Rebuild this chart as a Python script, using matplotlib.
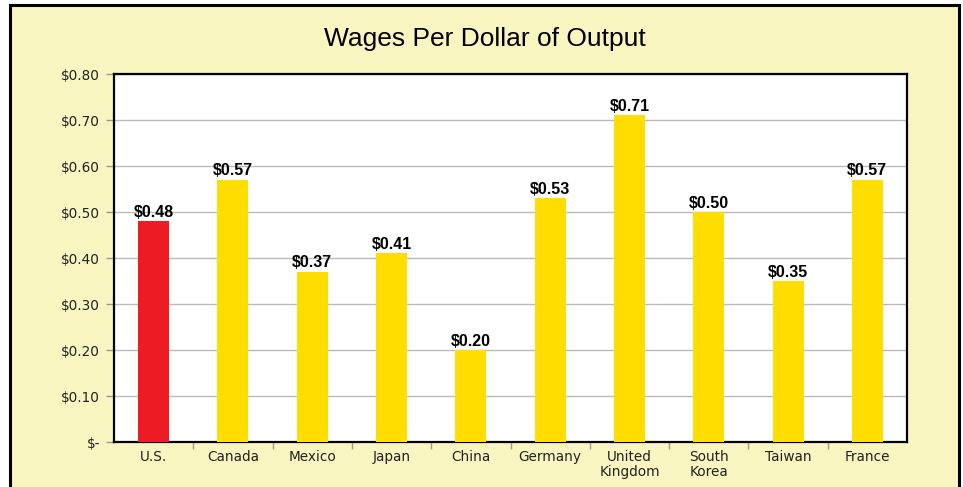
import numpy as np
import matplotlib
matplotlib.use('Agg')
from matplotlib import pyplot as plt
from matplotlib.patches import Rectangle

countries = ['U.S.', 'Canada', 'Mexico', 'Japan', 'China', 'Germany',
             'United\nKingdom', 'South\nKorea', 'Taiwan', 'France']
wages = [0.48, 0.57, 0.37, 0.41, 0.20, 0.53, 0.71, 0.50, 0.35, 0.57]
bar_colors = ['#ED1C24'] + ['#FFDD00'] * 9
yticks = [0.0, 0.1, 0.2, 0.3, 0.4, 0.5, 0.6, 0.7, 0.8]
ylabels = ['$-', '$0.10', '$0.20', '$0.30', '$0.40', '$0.50', '$0.60', '$0.70', '$0.80']

plt.rcParams['font.family'] = ['Liberation Sans', 'DejaVu Sans']

fig = plt.figure(figsize=(9.63, 4.87), dpi=100)
fig.patch.set_facecolor('white')

# yellow panel with black border, runs off the bottom
fig.patches.append(Rectangle((10 / 963, -0.05), 949 / 963, 1 - 5 / 487 + 0.05,
                             transform=fig.transFigure, facecolor='#F9F5C1',
                             edgecolor='black', linewidth=2.2, zorder=-10))

ax = fig.add_axes([114 / 963, 1 - 442 / 487, 793 / 963, 368 / 487])
ax.set_facecolor('white')
x = np.arange(len(countries))
ax.bar(x, wages, width=0.39, color=bar_colors, zorder=3)

for xi, v in zip(x, wages):
    ax.text(xi, v + 0.003, '$%.2f' % v, ha='center', va='bottom',
            fontsize=11.5, fontweight='bold', zorder=4)

tick_font = {'family': 'DejaVu Sans', 'size': 9.8}
ax.set_xlim(-0.5, len(countries) - 0.5)
ax.set_ylim(0, 0.8)
ax.set_yticks(yticks)
ax.set_yticklabels(ylabels, fontdict=tick_font, color='#222222')
ax.set_xticks(x)
ax.set_xticklabels(countries, fontdict=tick_font, color='#222222', linespacing=1.05)
ax.tick_params(axis='x', length=0, pad=6)
ax.set_xticks(np.arange(0.5, len(countries) - 1, 1), minor=True)
ax.tick_params(axis='x', which='minor', length=5, color='#999999', width=1)
ax.tick_params(axis='y', length=6, color='#999999', width=1, pad=4)
ax.yaxis.grid(True, color='#BBBBBB', linewidth=1, zorder=0)
ax.set_axisbelow(True)
for s in ax.spines.values():
    s.set_linewidth(1.6)
    s.set_color('black')

fig.text(485 / 963, 1 - 39 / 487, 'Wages Per Dollar of Output', ha='center',
         va='center', fontsize=19)

plt.savefig('out.png', dpi=100)
